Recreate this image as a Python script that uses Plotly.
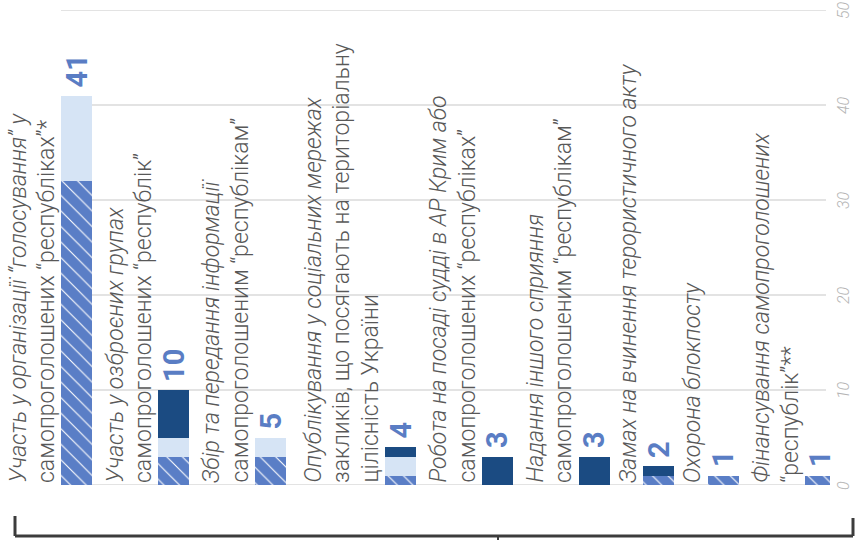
import plotly.graph_objects as go

# ---- data ----
labels = [
    ["Участь у організації “голосування” у", "самопроголошених “республіках”*"],
    ["Участь у озброєних групах", "самопроголошених “республік”"],
    ["Збір та передання інформації", "самопроголошеним “республікам”"],
    ["Опублікування у соціальних мережах", "закликів, що посягають на територіальну", "цілісність України"],
    ["Робота на посаді судді в АР Крим або", "самопроголошених “республіках”"],
    ["Надання іншого сприяння", "самопроголошеним “республікам”"],
    ["Замах на вчинення терористичного акту"],
    ["Охорона блокпосту"],
    ["Фінансування самопроголошених", "“республік”**"],
]
hatched = [32, 3, 3, 1, 0, 0, 1, 1, 1]
light = [9, 2, 2, 2, 0, 0, 0, 0, 0]
dark = [0, 5, 0, 1, 3, 3, 1, 0, 0]
y_ticks = [0, 10, 20, 30, 40, 50]

# ---- layout helpers (pixel-like x units) ----
W, H = 858, 540
ML, MR, MT, MB = 0, 28, 10, 55
PW = W - ML - MR
PH = H - MT - MB
BAR_W = 31
LINE = 28.5
first_center = 76.5
xs = []
for i, lab in enumerate(labels):
    if i == 0:
        xs.append(first_center)
    else:
        xs.append(xs[-1] + 32.5 * len(lab) + 32)
totals = [a + b + c for a, b, c in zip(hatched, light, dark)]

C_HATCH = "#5A7EC6"
C_LIGHT = "#D6E4F5"
C_DARK = "#1B4B82"
C_VAL = "#5A7DC4"
C_TXT = "#585858"
FONT = "Roboto, 'DejaVu Sans', sans-serif"


def px(xp):
    return (xp - ML) / PW


def py(yp):
    return (H - MB - yp) / PH


fig = go.Figure()
fig.add_trace(go.Bar(
    x=xs, y=hatched, width=BAR_W,
    marker=dict(color=C_HATCH, line=dict(width=0),
                pattern=dict(shape="\\", fgcolor="#FFFFFF", bgcolor=C_HATCH,
                             size=11, solidity=0.1, fillmode="replace")),
    hoverinfo="skip"))
fig.add_trace(go.Bar(x=xs, y=light, width=BAR_W,
                     marker=dict(color=C_LIGHT, line=dict(width=0)), hoverinfo="skip"))
fig.add_trace(go.Bar(x=xs, y=dark, width=BAR_W,
                     marker=dict(color=C_DARK, line=dict(width=0)), hoverinfo="skip"))

annotations = []
for x, lab, tot in zip(xs, labels, totals):
    left = x - BAR_W / 2
    n = len(lab)
    for j, line in enumerate(lab):
        cx = left - 15 - LINE * (n - 1 - j)
        annotations.append(dict(
            x=cx, y=0, xref="x", yref="y", text=line, showarrow=False,
            textangle=-90, xanchor="center", yanchor="bottom",
            font=dict(family=FONT, size=23, color=C_TXT, weight=300,
                      style="italic" if j == 0 else "normal")))
    annotations.append(dict(
        x=x, y=tot, xref="x", yref="y", text=str(tot), showarrow=False,
        textangle=-90, xanchor="center", yanchor="bottom", yshift=6,
        font=dict(family=FONT, size=29, color=C_VAL, weight=700)))

# y tick labels (rotated, right side)
for v in y_ticks:
    annotations.append(dict(
        x=px(843), y=v, xref="paper", yref="y", text=str(v), showarrow=False,
        textangle=-90, xanchor="center", yanchor="middle",
        font=dict(family=FONT, size=16, color="#B5B5B5", weight=300, style="italic")))

shapes = []
grid_x0 = xs[0] - BAR_W / 2
for v in y_ticks:
    shapes.append(dict(type="line", xref="x", yref="y", x0=grid_x0, x1=826, y0=v, y1=v,
                       line=dict(color="#DADADA", width=1.5), layer="below"))

br = dict(color="#3C3C3C", width=3)
shapes += [
    dict(type="line", xref="paper", yref="paper", x0=px(15), x1=px(853), y0=py(536), y1=py(536), line=br),
    dict(type="line", xref="paper", yref="paper", x0=px(15), x1=px(15), y0=py(516), y1=py(536), line=br),
    dict(type="line", xref="paper", yref="paper", x0=px(853), x1=px(853), y0=py(518), y1=py(536), line=br),
    dict(type="line", xref="paper", yref="paper", x0=px(498), x1=px(498), y0=py(536), y1=py(540),
         line=dict(color="#3C3C3C", width=2)),
]

fig.update_layout(
    width=W, height=H, barmode="stack", showlegend=False,
    margin=dict(l=ML, r=MR, t=MT, b=MB),
    plot_bgcolor="white", paper_bgcolor="white",
    xaxis=dict(range=[0, PW], visible=False, fixedrange=True),
    yaxis=dict(range=[0, 50], side="right", tickvals=y_ticks, showticklabels=False,
               showgrid=False, zeroline=False, showline=False, ticks="", fixedrange=True),
    annotations=annotations, shapes=shapes,
)
fig.write_html("out.html", config={"displayModeBar": False},
               post_script="document.body.style.margin='0';document.body.style.overflow='hidden';")
